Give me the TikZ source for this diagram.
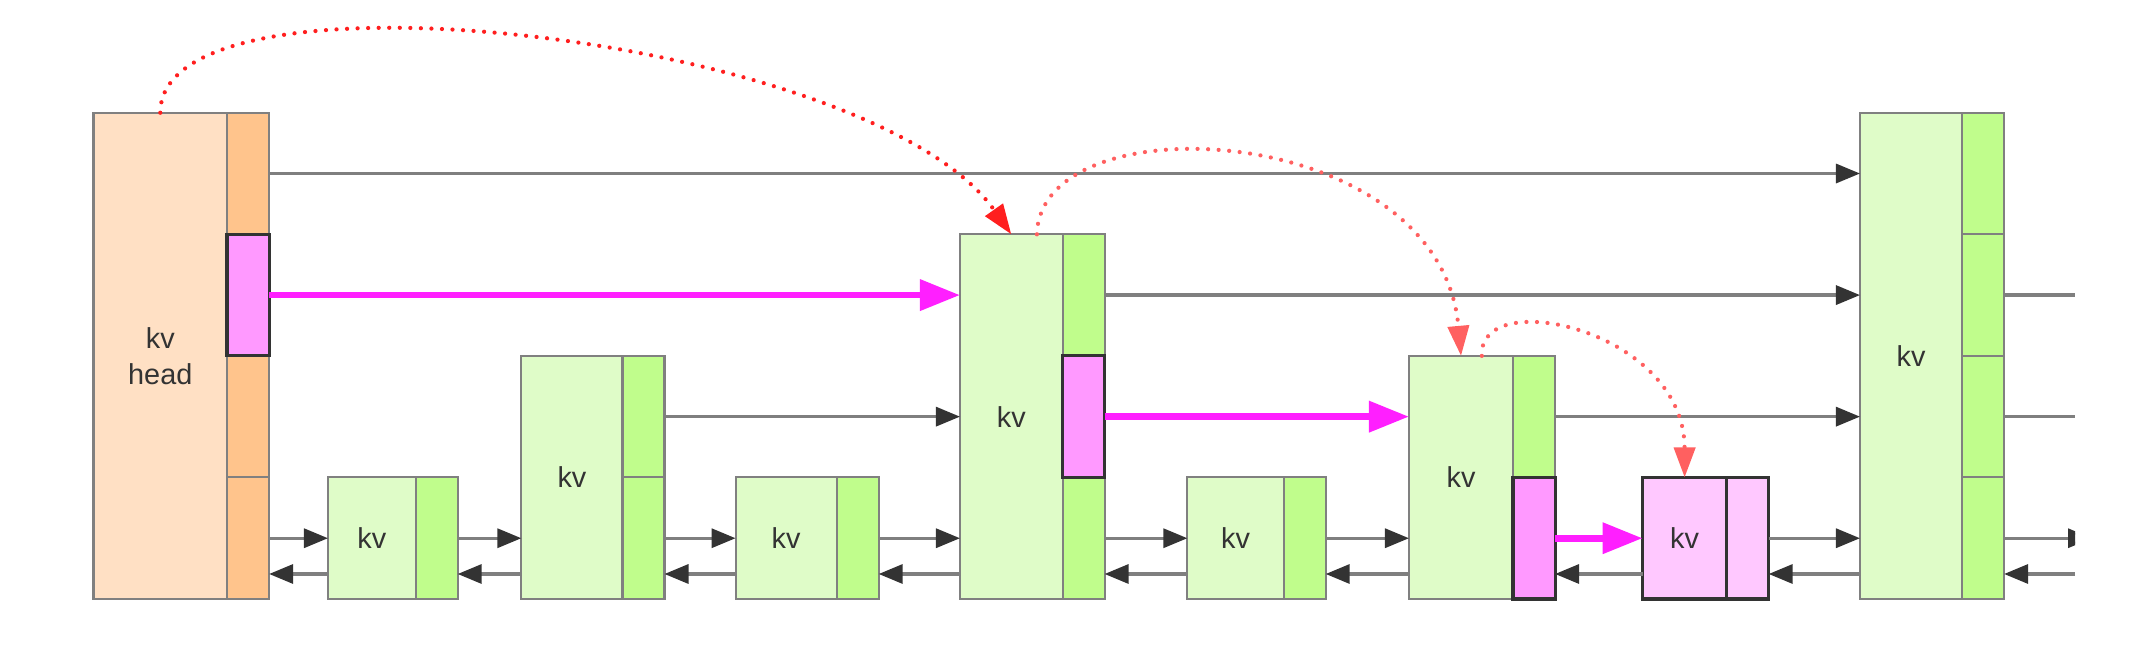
\documentclass[tikz,border=0pt]{standalone}
\usepackage{fontspec}
\setmainfont{Liberation Sans}
\usepackage{xcolor}
\usepackage{tikz}
\usetikzlibrary{arrows.meta, calc}

\definecolor{kvgreen}{HTML}{DFFCC8}
\definecolor{cellgreen}{HTML}{C0FD8C}
\definecolor{headpeach}{HTML}{FFE0C4}
\definecolor{cellorange}{HTML}{FFC48C}
\definecolor{magcell}{HTML}{FF99FF}
\definecolor{pinkfill}{HTML}{FFC8FF}
\definecolor{edgegray}{HTML}{808080}
\definecolor{hitedge}{HTML}{333333}
\definecolor{linkgray}{HTML}{7F7F7F}
\definecolor{tipgray}{HTML}{333333}
\definecolor{textgray}{HTML}{333333}
\definecolor{jumpmag}{HTML}{FF1FFF}
\definecolor{hopred}{HTML}{FF1F1F}
\definecolor{hopsalmon}{HTML}{FF6060}

\begin{document}
\begin{tikzpicture}[
    x=0.01cm, y=-0.01cm,
    kvbox/.style={draw=edgegray, fill=kvgreen, line width=0.6pt, inner sep=0pt, outer sep=0pt, anchor=south west,
        text=textgray, align=center, font=\fontsize{8.2}{10.2}\selectfont},
    cell/.style={draw=edgegray, fill=cellgreen, line width=0.6pt, minimum width=4.2mm,
        minimum height=12.15mm, inner sep=0pt, outer sep=0pt, anchor=south west},
    hit/.style={draw=hitedge, line width=0.9pt},
    link/.style={draw=linkgray, line width=0.9pt, -{Triangle[length=2.4mm, width=1.9mm, color=tipgray]}},
    runout/.style={draw=linkgray, line width=0.9pt},
    jump/.style={draw=jumpmag, line width=1.9pt, -{Triangle[length=4mm, width=3mm]}},
    hop/.style={line width=1.2pt, dash pattern=on 0pt off 3pt, line cap=round, -{Triangle[length=3mm, width=2.1mm]}}
]
\useasboundingbox (0,0) rectangle (2138,648);

% towers
\node (head) [kvbox, fill=headpeach, minimum width=13.35mm, minimum height=48.6mm] at (93.5,599) {kv\\head};
\node (headA) [cell, fill=cellorange] at (head.south east) {};
\node (headB) [cell, fill=cellorange] at (headA.north west) {};
\node (headD) [cell, fill=cellorange, anchor=north west] at (head.north east) {};
\node (headC) [cell, hit, fill=magcell] at (headB.north west) {};

\node (kv1) [kvbox, minimum width=8.76mm, minimum height=12.15mm] at (328,599) {kv};
\node (kv1a) [cell] at (kv1.south east) {};

\node (kv2) [kvbox, minimum width=10.1mm, minimum height=24.3mm] at (521.4,599) {kv};
\node (kv2a) [cell] at (kv2.south east) {};
\node (kv2b) [cell] at (kv2a.north west) {};

\node (kv3) [kvbox, minimum width=10.1mm, minimum height=12.15mm] at (735.6,599) {kv};
\node (kv3a) [cell] at (kv3.south east) {};

\node (kv4) [kvbox, minimum width=10.25mm, minimum height=36.45mm] at (960,599) {kv};
\node (kv4a) [cell] at (kv4.south east) {};
\node (kv4c) [cell, anchor=north west] at (kv4.north east) {};
\node (kv4b) [cell, hit, fill=magcell] at (kv4a.north west) {};

\node (kv5) [kvbox, minimum width=9.62mm, minimum height=12.15mm] at (1187.4,599) {kv};
\node (kv5a) [cell] at (kv5.south east) {};

\node (kv6) [kvbox, minimum width=10.4mm, minimum height=24.3mm] at (1409,599) {kv};
\node (kv6b) [cell, anchor=north west] at (kv6.north east) {};
\node (kv6a) [cell, hit, fill=magcell] at (kv6.south east) {};

\node (kv7) [kvbox, hit, fill=pinkfill, minimum width=8.4mm, minimum height=12.15mm] at (1642.6,599) {kv};
\node (kv7a) [cell, hit, fill=pinkfill] at (kv7.south east) {};

\node (kv8) [kvbox, minimum width=10.2mm, minimum height=48.6mm] at (1860,599) {kv};
\node (kv8a) [cell] at (kv8.south east) {};
\node (kv8b) [cell] at (kv8a.north west) {};
\node (kv8c) [cell] at (kv8b.north west) {};
\node (kv8d) [cell] at (kv8c.north west) {};

\coordinate (rim) at (2075,0);
\coordinate (past) at (2092,0);

% level 4
\draw[link] (headD.east) -- (kv8.west |- headD.east);
% level 3
\draw[jump] (headC.east) -- (kv4.west |- headC.east);
\draw[link] (kv4c.east) -- (kv8.west |- kv4c.east);
\draw[runout] (kv8c.east) -- (rim |- kv8c.east);
% level 2
\draw[link] (kv2b.east) -- (kv4.west |- kv2b.east);
\draw[jump] (kv4b.east) -- (kv6.west |- kv4b.east);
\draw[link] (kv6b.east) -- (kv8.west |- kv6b.east);
\draw[runout] (kv8b.east) -- (rim |- kv8b.east);
% level 1, forward
\draw[link] (headA.east) -- (kv1.west);
\draw[link] (kv1a.east) -- (kv2.west |- kv1a.east);
\draw[link] (kv2a.east) -- (kv3.west);
\draw[link] (kv3a.east) -- (kv4.west |- kv3a.east);
\draw[link] (kv4a.east) -- (kv5.west);
\draw[link] (kv5a.east) -- (kv6.west |- kv5a.east);
\draw[jump] (kv6a.east) -- (kv7.west);
\draw[link] (kv7a.east) -- (kv8.west |- kv7a.east);
\begin{scope}
  \clip (0,0) rectangle (2075,648);
  \draw[link] (kv8a.east) -- (past |- kv8a.east);
\end{scope}
% level 1, backward
\draw[link] ([yshift=2.5mm]kv1.south west) -- ([yshift=2.5mm]headA.south east);
\draw[link] ([yshift=2.5mm]kv2.south west) -- ([yshift=2.5mm]kv1a.south east);
\draw[link] ([yshift=2.5mm]kv3.south west) -- ([yshift=2.5mm]kv2a.south east);
\draw[link] ([yshift=2.5mm]kv4.south west) -- ([yshift=2.5mm]kv3a.south east);
\draw[link] ([yshift=2.5mm]kv5.south west) -- ([yshift=2.5mm]kv4a.south east);
\draw[link] ([yshift=2.5mm]kv6.south west) -- ([yshift=2.5mm]kv5a.south east);
\draw[link] ([yshift=2.5mm]kv7.south west) -- ([yshift=2.5mm]kv6a.south east);
\draw[link] ([yshift=2.5mm]kv8.south west) -- ([yshift=2.5mm]kv7a.south east);
\draw[link] ([yshift=2.5mm]rim |- kv8a.south east) -- ([yshift=2.5mm]kv8a.south east);

% search path
\draw[hop, draw=hopred] (head.north) .. controls +(0,-158) and +(-141,-200) .. (kv4.north);
\draw[hop, draw=hopsalmon] ($(kv4.north)!0.5!(kv4.north east)$) .. controls +(3,-135) and +(-21,-236) .. (kv6.north);
\draw[hop, draw=hopsalmon] ($(kv6.north)!0.4!(kv6.north east)$) .. controls +(-4,-71) and +(0,-148) .. (kv7.north);
\end{tikzpicture}
\end{document}
